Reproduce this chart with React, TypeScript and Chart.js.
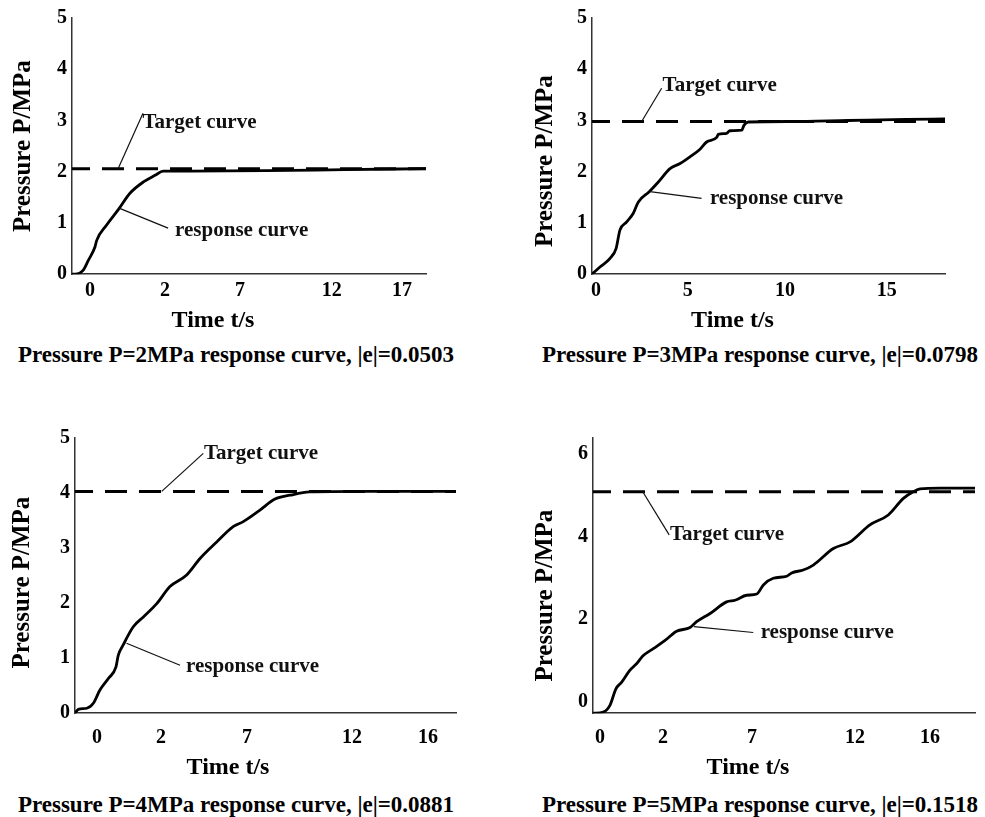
import React, { useEffect, useRef } from "react";
import { Chart, registerables } from "chart.js";

Chart.register(...registerables);

const FONT = '"Liberation Serif", "Times New Roman", Times, serif';
const INK = "#111";

// ---------- Panel 1 : P = 2 MPa ----------
const P1_TIME = [-1.0, -0.85, -0.42, -0.16, 0.18, 0.27, 0.78, 1.38, 1.98, 2.67, 3.27, 3.69, 5.07, 9.0, 13.0, 17.2];
const P1_PRESSURE = [0, 0.0, 0.08, 0.27, 0.53, 0.66, 0.96, 1.26, 1.58, 1.8, 1.93, 2.01, 2.01, 2.02, 2.04, 2.06];
const P1_TARGET = 2.06;
const P1_X_TICK_POS = [-0.07, 3.78, 7.64, 12.35, 15.97];
const P1_X_TICK_LABELS = ["0", "2", "7", "12", "17"];
const P1_Y_TICKS = [0, 1, 2, 3, 4, 5];
const P1_CAPTION = "Pressure P=2MPa response curve, |e|=0.0503";

// ---------- Panel 2 : P = 3 MPa ----------
const P2_TIME = [-0.2, 0.21, 0.73, 1.04, 1.24, 1.59, 1.93, 2.19, 2.75, 3.22, 3.82, 4.34, 4.85, 5.37, 5.71, 6.23, 6.31, 6.74, 6.91, 7.52, 7.64, 7.86, 10.0, 13.0, 16.0, 18.0];
const P2_PRESSURE = [0, 0.14, 0.31, 0.5, 0.86, 1.02, 1.19, 1.41, 1.61, 1.8, 2.06, 2.16, 2.29, 2.44, 2.58, 2.67, 2.73, 2.75, 2.8, 2.81, 2.91, 2.97, 2.98, 3.0, 3.02, 3.03];
const P2_TARGET = 2.98;
const P2_X_TICK_POS = [0, 4.74, 9.75, 15.0];
const P2_X_TICK_LABELS = ["0", "5", "10", "15"];
const P2_Y_TICKS = [0, 1, 2, 3, 4, 5];
const P2_CAPTION = "Pressure P=3MPa response curve, |e|=0.0798";

// ---------- Panel 3 : P = 4 MPa ----------
const P3_TIME = [-1.0, -0.84, -0.43, -0.11, 0.21, 0.62, 0.99, 1.1, 1.34, 1.83, 2.32, 2.97, 3.61, 4.42, 5.07, 5.88, 6.68, 7.17, 7.98, 8.71, 9.44, 10.4, 13.0, 17.5];
const P3_PRESSURE = [0, 0.07, 0.09, 0.18, 0.42, 0.63, 0.84, 1.05, 1.24, 1.57, 1.75, 1.99, 2.3, 2.51, 2.81, 3.11, 3.39, 3.48, 3.69, 3.89, 3.96, 4.02, 4.03, 4.03];
const P3_TARGET = 4.03;
const P3_X_TICK_POS = [0.07, 3.17, 7.35, 12.45, 16.14];
const P3_X_TICK_LABELS = ["0", "2", "7", "12", "16"];
const P3_Y_TICKS = [0, 1, 2, 3, 4, 5];
const P3_CAPTION = "Pressure P=4MPa response curve, |e|=0.0881";

// ---------- Panel 4 : P = 5 MPa ----------
const P4_TIME = [-0.3, 0.2, 0.52, 0.81, 1.09, 1.49, 1.82, 2.11, 2.62, 3.19, 3.75, 4.4, 4.72, 5.37, 6.17, 6.58, 7.14, 7.63, 7.95, 8.43, 9.08, 9.32, 9.88, 10.37, 11.34, 12.15, 13.11, 14.0, 14.73, 15.21, 15.54, 16.5, 18.2];
const P4_PRESSURE = [-0.27, -0.24, -0.08, 0.32, 0.48, 0.77, 0.93, 1.11, 1.29, 1.49, 1.71, 1.8, 1.94, 2.14, 2.42, 2.46, 2.58, 2.61, 2.83, 2.99, 3.04, 3.12, 3.19, 3.31, 3.71, 3.87, 4.28, 4.52, 4.92, 5.08, 5.15, 5.17, 5.17];
const P4_TARGET = 5.08;
const P4_X_TICK_POS = [0.04, 3.09, 7.4, 12.39, 16.02];
const P4_X_TICK_LABELS = ["0", "2", "7", "12", "16"];
const P4_Y_TICKS = [0, 2, 4, 6];
const P4_CAPTION = "Pressure P=5MPa response curve, |e|=0.1518";

// ---------- Shared text ----------
const X_TITLE = "Time t/s";
const Y_TITLE = "Pressure P/MPa";
const TARGET_TEXT = "Target curve";
const RESPONSE_TEXT = "response curve";

type Note = { text: string; from: [number, number]; to: [number, number]; at: [number, number] };

type PanelSpec = {
  time: number[];
  pressure: number[];
  target: number;
  xRange: [number, number];
  yRange: [number, number];
  xTickPos: number[];
  xTickLabels: string[];
  yTicks: number[];
  caption: string;
  notes: Note[];
  box: { left: number; top: number; width: number; height: number };
  padTop: number;
  padRight: number;
  yAxisW: number;
  xAxisH: number;
  xTickPad: number;
  yTitlePad: number;
  yTitleShift: number;
  captionCenter: [number, number];
};

const PANELS: PanelSpec[] = [
  {
    time: P1_TIME, pressure: P1_PRESSURE, target: P1_TARGET,
    xRange: [-1, 17.2], yRange: [0, 5],
    xTickPos: P1_X_TICK_POS, xTickLabels: P1_X_TICK_LABELS, yTicks: P1_Y_TICKS,
    caption: P1_CAPTION,
    notes: [
      { text: TARGET_TEXT, from: [1.37, 2.06], to: [2.65, 3.14], at: [2.62, 2.95] },
      { text: RESPONSE_TEXT, from: [1.42, 1.29], to: [3.94, 0.9], at: [4.3, 0.86] },
    ],
    box: { left: 0, top: 0, width: 470, height: 337 },
    padTop: 18, padRight: 44, yAxisW: 72, xAxisH: 30, xTickPad: 5, yTitlePad: 9, yTitleShift: 0,
    captionCenter: [236, 355],
  },
  {
    time: P2_TIME, pressure: P2_PRESSURE, target: P2_TARGET,
    xRange: [-0.2, 18.0], yRange: [0, 5],
    xTickPos: P2_X_TICK_POS, xTickLabels: P2_X_TICK_LABELS, yTicks: P2_Y_TICKS,
    caption: P2_CAPTION,
    notes: [
      { text: TARGET_TEXT, from: [2.36, 2.98], to: [3.39, 3.63], at: [3.44, 3.69] },
      { text: RESPONSE_TEXT, from: [2.79, 1.61], to: [5.45, 1.48], at: [5.88, 1.48] },
    ],
    box: { left: 520, top: 0, width: 470, height: 337 },
    padTop: 18, padRight: 45, yAxisW: 72, xAxisH: 30, xTickPad: 5, yTitlePad: 11, yTitleShift: 15,
    captionCenter: [760, 355],
  },
  {
    time: P3_TIME, pressure: P3_PRESSURE, target: P3_TARGET,
    xRange: [-1, 17.5], yRange: [0, 5],
    xTickPos: P3_X_TICK_POS, xTickLabels: P3_X_TICK_LABELS, yTicks: P3_Y_TICKS,
    caption: P3_CAPTION,
    notes: [
      { text: TARGET_TEXT, from: [3.21, 4.03], to: [5.23, 4.72], at: [5.26, 4.72] },
      { text: RESPONSE_TEXT, from: [1.5, 1.27], to: [4.1, 0.87], at: [4.39, 0.84] },
    ],
    box: { left: 0, top: 400, width: 494, height: 384 },
    padTop: 38, padRight: 38, yAxisW: 75, xAxisH: 38, xTickPad: 13, yTitlePad: 8, yTitleShift: 7,
    captionCenter: [236, 805],
  },
  {
    time: P4_TIME, pressure: P4_PRESSURE, target: P4_TARGET,
    xRange: [-0.3, 18.2], yRange: [-0.27, 6.38],
    xTickPos: P4_X_TICK_POS, xTickLabels: P4_X_TICK_LABELS, yTicks: P4_Y_TICKS,
    caption: P4_CAPTION,
    notes: [
      { text: TARGET_TEXT, from: [2.11, 5.08], to: [3.39, 4.04], at: [3.43, 4.04] },
      { text: RESPONSE_TEXT, from: [4.59, 1.82], to: [7.46, 1.68], at: [7.82, 1.68] },
    ],
    box: { left: 521, top: 400, width: 492, height: 384 },
    padTop: 38, padRight: 38, yAxisW: 72, xAxisH: 38, xTickPad: 13, yTitlePad: 10, yTitleShift: 20,
    captionCenter: [760, 805],
  },
];

// Draws the "Target curve" / "response curve" labels with their leader lines
function makeNotesPlugin(notes: Note[]) {
  return {
    id: "notes",
    afterDatasetsDraw(chart: any) {
      const { ctx } = chart;
      const x = chart.scales.x;
      const y = chart.scales.y;
      ctx.save();
      for (const n of notes) {
        ctx.beginPath();
        ctx.lineWidth = 1.2;
        ctx.strokeStyle = INK;
        ctx.moveTo(x.getPixelForValue(n.from[0]), y.getPixelForValue(n.from[1]));
        ctx.lineTo(x.getPixelForValue(n.to[0]), y.getPixelForValue(n.to[1]));
        ctx.stroke();
        ctx.font = `bold 21px ${FONT}`;
        ctx.fillStyle = INK;
        ctx.textAlign = "left";
        ctx.textBaseline = "middle";
        ctx.fillText(n.text, x.getPixelForValue(n.at[0]), y.getPixelForValue(n.at[1]));
      }
      ctx.restore();
    },
  };
}

// Nudges the y-axis title vertically (the reference title is not centred on the axis)
function makeYTitleShiftPlugin(dy: number) {
  return {
    id: "yTitleShift",
    afterLayout(chart: any) {
      const sc = chart.scales.y;
      if (!sc || sc.__shifted || !dy) return;
      const orig = sc.drawTitle;
      sc.drawTitle = function (...args: any[]) {
        const ctx = this.ctx;
        ctx.save();
        ctx.translate(0, dy);
        orig.apply(this, args);
        ctx.restore();
      };
      sc.__shifted = true;
    },
  };
}

function PanelChart({ spec }: { spec: PanelSpec }) {
  const ref = useRef<HTMLCanvasElement | null>(null);
  useEffect(() => {
    if (!ref.current) return;
    const s = spec;
    const chart = new Chart(ref.current, {
      type: "line",
      data: {
        datasets: [
          {
            label: RESPONSE_TEXT,
            data: s.time.map((t, i) => ({ x: t, y: s.pressure[i] })),
            borderColor: "#000",
            borderWidth: 2.8,
            pointRadius: 0,
            cubicInterpolationMode: "monotone",
            fill: false,
          },
          {
            label: TARGET_TEXT,
            data: [
              { x: s.xRange[0], y: s.target },
              { x: s.xRange[1], y: s.target },
            ],
            borderColor: "#000",
            borderWidth: 3,
            borderDash: [22, 12],
            borderDashOffset: 4,
            pointRadius: 0,
            fill: false,
          },
        ],
      },
      options: {
        responsive: false,
        animation: false,
        devicePixelRatio: 1,
        layout: { padding: { top: s.padTop, right: s.padRight, left: 0, bottom: 0 } },
        plugins: {
          legend: { display: false },
          tooltip: { enabled: false },
          title: {
            display: true,
            position: "bottom",
            text: X_TITLE,
            color: "#000",
            font: { family: FONT, size: 24, weight: "bold" },
            padding: { top: 2, bottom: 2 },
          },
        },
        scales: {
          x: {
            type: "linear",
            min: s.xRange[0],
            max: s.xRange[1],
            afterBuildTicks: (sc: any) => {
              sc.ticks = s.xTickPos.map((v) => ({ value: v }));
            },
            afterFit: (sc: any) => {
              sc.height = s.xAxisH;
            },
            ticks: {
              autoSkip: false,
              maxRotation: 0,
              padding: s.xTickPad,
              color: "#000",
              font: { family: FONT, size: 20, weight: "bold" },
              callback: (_v: any, i: number) => s.xTickLabels[i],
            },
            grid: { display: false, drawTicks: false },
            border: { display: true, color: "#333", width: 1.5 },
          },
          y: {
            type: "linear",
            min: s.yRange[0],
            max: s.yRange[1],
            afterBuildTicks: (sc: any) => {
              sc.ticks = s.yTicks.map((v) => ({ value: v }));
            },
            afterFit: (sc: any) => {
              sc.width = s.yAxisW;
            },
            ticks: {
              padding: 5,
              color: "#000",
              font: { family: FONT, size: 20, weight: "bold" },
              callback: (v: any) => String(v),
            },
            grid: { display: false, drawTicks: false },
            border: { display: true, color: "#333", width: 1.5 },
            title: {
              display: true,
              text: Y_TITLE,
              color: "#000",
              font: { family: FONT, size: 25, weight: "bold" },
              padding: { top: s.yTitlePad, bottom: 0 },
            },
          },
        },
      } as any,
      plugins: [makeNotesPlugin(s.notes), makeYTitleShiftPlugin(s.yTitleShift)],
    });
    return () => chart.destroy();
  }, [spec]);

  return (
    <canvas
      ref={ref}
      width={spec.box.width}
      height={spec.box.height}
      style={{
        position: "absolute",
        left: spec.box.left,
        top: spec.box.top,
        width: spec.box.width,
        height: spec.box.height,
      }}
    />
  );
}

export default function App() {
  return (
    <div
      style={{
        position: "absolute",
        left: 0,
        top: 0,
        width: 985,
        height: 817,
        overflow: "hidden",
        background: "#fff",
      }}
    >
      {PANELS.map((p, i) => (
        <PanelChart key={i} spec={p} />
      ))}
      {PANELS.map((p, i) => (
        <div
          key={"c" + i}
          style={{
            position: "absolute",
            left: p.captionCenter[0] - 260,
            top: p.captionCenter[1] - 14,
            width: 520,
            height: 28,
            lineHeight: "28px",
            textAlign: "center",
            whiteSpace: "nowrap",
            fontFamily: FONT,
            fontWeight: "bold",
            fontSize: 23,
            color: "#000",
          }}
        >
          {p.caption}
        </div>
      ))}
    </div>
  );
}
